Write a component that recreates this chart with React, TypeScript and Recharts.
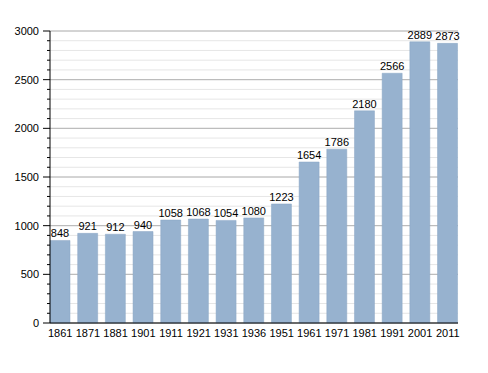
import React from 'react';
import {
  BarChart,
  Bar,
  XAxis,
  YAxis,
  CartesianGrid,
  LabelList,
} from 'recharts';

const years = ['1861', '1871', '1881', '1901', '1911', '1921', '1931', '1936', '1951', '1961', '1971', '1981', '1991', '2001', '2011'];
const population = [848, 921, 912, 940, 1058, 1068, 1054, 1080, 1223, 1654, 1786, 2180, 2566, 2889, 2873];
const majorTicks = [0, 500, 1000, 1500, 2000, 2500, 3000];
const minorTicks = Array.from({ length: 31 }, (_, i) => i * 100);

const data = years.map((year, i) => ({ year, value: population[i] }));

const FONT = '"Liberation Sans", Arial, sans-serif';

function YTick(props: any) {
  const { x, y, payload } = props;
  const major = payload.value % 500 === 0;
  return (
    <g>
      <line x1={x + 8 - (major ? 7 : 3)} x2={x + 8} y1={y} y2={y} stroke="#000" />
      {major && (
        <text x={x - 3} y={y} dy={4} textAnchor="end" fontSize={11} fontFamily={FONT} fill="#000">
          {payload.value}
        </text>
      )}
    </g>
  );
}

export default function App() {
  return (
    <div style={{ position: 'absolute', left: 0, top: 0, width: 488, height: 373, background: '#fff' }}>
      <BarChart
        width={488}
        height={373}
        data={data}
        margin={{ top: 31, right: 30, left: 0, bottom: 26 }}
        barCategoryGap={3.6}
      >
        <CartesianGrid horizontalValues={minorTicks} vertical={false} stroke="#e6e6e6" />
        <CartesianGrid horizontalValues={majorTicks} vertical={false} stroke="#b4b4b4" />
        <XAxis
          dataKey="year"
          tickLine={false}
          axisLine={{ stroke: '#000' }}
          padding={{ left: -3.6, right: -3.6 }}
          interval={0}
          tick={{ fontSize: 11, fontFamily: FONT, fill: '#000' }}
          tickMargin={0}
          height={24}
        />
        <YAxis
          domain={[0, 3000]}
          ticks={minorTicks}
          interval={0}
          width={50}
          tickLine={false}
          axisLine={{ stroke: '#000' }}
          tick={<YTick />}
        />
        <Bar dataKey="value" fill="#97b2cf" stroke="#8aa6c4" strokeWidth={0.5} isAnimationActive={false}>
          <LabelList dataKey="value" position="top" offset={3} fontSize={11} fontFamily={FONT} fill="#000" />
        </Bar>
      </BarChart>
    </div>
  );
}
